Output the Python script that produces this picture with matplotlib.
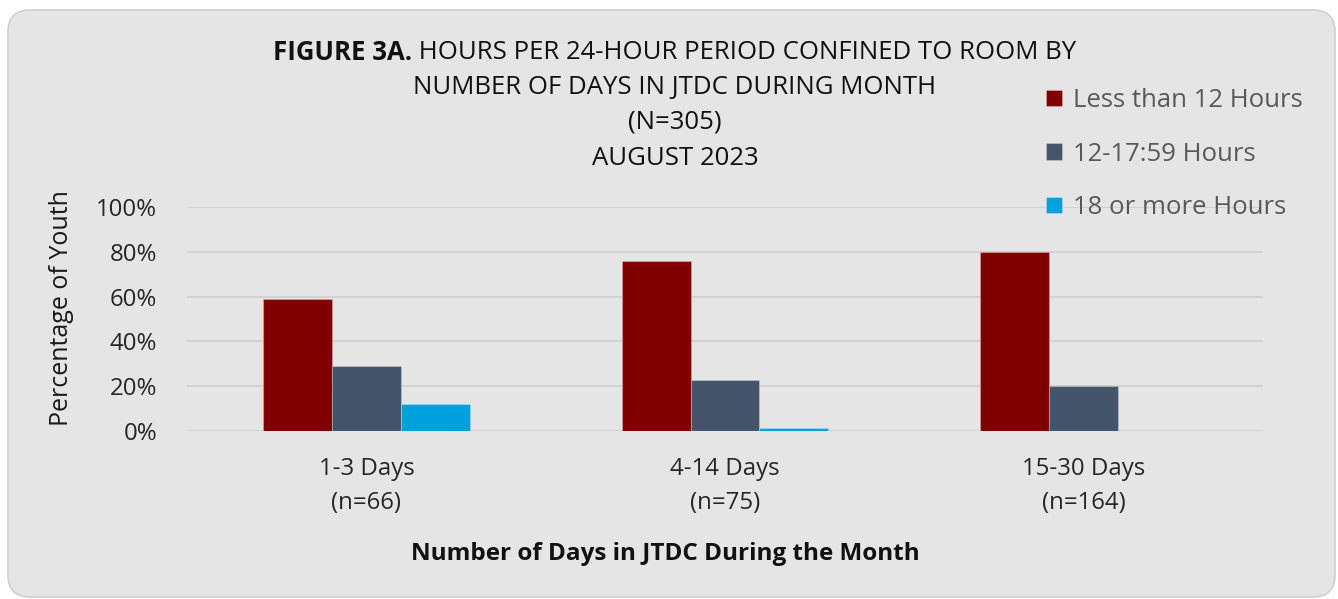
import numpy as np
import matplotlib.pyplot as plt
from matplotlib.patches import FancyBboxPatch
from matplotlib.transforms import IdentityTransform

plt.rcParams['font.family'] = ['Open Sans', 'DejaVu Sans']

# Categories and group sizes
categories = ['1-3 Days\n(n=66)', '4-14 Days\n(n=75)', '15-30 Days\n(n=164)']
# Share of youth in each confinement band
less_12 = [59.1, 76.0, 79.9]
h12_18 = [28.8, 22.7, 20.1]
h18_plus = [12.1, 1.3, 0.0]
series = ['Less than 12 Hours', '12-17:59 Hours', '18 or more Hours']
colors = ['#800000', '#44546a', '#009fdd']
yticks = [0, 20, 40, 60, 80, 100]

fig = plt.figure(figsize=(13.38, 5.99), dpi=100, facecolor='white')

# rounded grey panel behind everything
bg = FancyBboxPatch((8, 2), 1327, 587, boxstyle='round,pad=0,rounding_size=22',
                    transform=IdentityTransform(), facecolor='#e5e5e5',
                    edgecolor='#cfcfcf', lw=1.2, zorder=-10)
fig.patches.append(bg)

ax = fig.add_axes([0.1398, 0.2805, 0.8042, 0.3739])
ax.set_facecolor('none')

x = np.arange(len(categories))
w = 0.192
for i, (vals, name) in enumerate(zip([less_12, h12_18, h18_plus], series)):
    ax.bar(x + (i - 1) * w, np.array(vals) / 100, width=w, color=colors[i],
           edgecolor=(1, 1, 1, 0.25), lw=0.8, label=name, zorder=3)

ax.set_xlim(-0.5, 2.5)
ax.set_ylim(0, 1)
ax.set_yticks([v / 100 for v in yticks])
ax.set_yticklabels([f'{v}%' for v in yticks], fontsize=17.3)
ax.set_xticks(x)
ax.set_xticklabels(categories, linespacing=1.55, fontsize=17.3)
ax.tick_params(axis='both', length=0, labelcolor='#262626')
ax.tick_params(axis='y', pad=21.5)
ax.tick_params(axis='x', pad=19)
ax.grid(axis='y', color='#d2d2d2', lw=1.5, zorder=0)
for spine in ax.spines.values():
    spine.set_visible(False)

ax.set_ylabel('Percentage of Youth', fontsize=18, color='#1a1a1a')
ax.yaxis.set_label_coords(-0.105, 0.549)
fig.text(0.497, 0.065, 'Number of Days in JTDC During the Month', ha='center',
         fontsize=17.5, fontweight='bold', color='#111111')

# title: bold lead-in then regular text
tsize = 18.5
t1 = fig.text(0.2, 0.912, 'FIGURE 3A.', fontsize=tsize, fontweight='bold',
              ha='left', va='center', color='#111111')
t2 = fig.text(0.2, 0.912, ' HOURS PER 24-HOUR PERIOD CONFINED TO ROOM BY',
              fontsize=tsize, ha='left', va='center', color='#111111')
fig.canvas.draw()
r = fig.canvas.get_renderer()
w1 = t1.get_window_extent(r).width
w2 = t2.get_window_extent(r).width
x0 = 675 - (w1 + w2) / 2
t1.set_x(x0 / 1338)
t2.set_x((x0 + w1) / 1338)
for yy, s in [(0.854, 'NUMBER OF DAYS IN JTDC DURING MONTH'),
              (0.796, '(N=305)'), (0.735, 'AUGUST 2023')]:
    fig.text(675 / 1338, yy, s, fontsize=tsize, ha='center', va='center', color='#111111')

leg = ax.legend(loc='upper left', bbox_to_anchor=(1036 / 1338, 1 - 78 / 599),
                bbox_transform=fig.transFigure, frameon=False, fontsize=18.5,
                handlelength=0.6, handleheight=0.6, handletextpad=0.45,
                labelspacing=1.1, borderaxespad=0)
for txt in leg.get_texts():
    txt.set_color('#595959')

fig.savefig('out.png', dpi=100)
